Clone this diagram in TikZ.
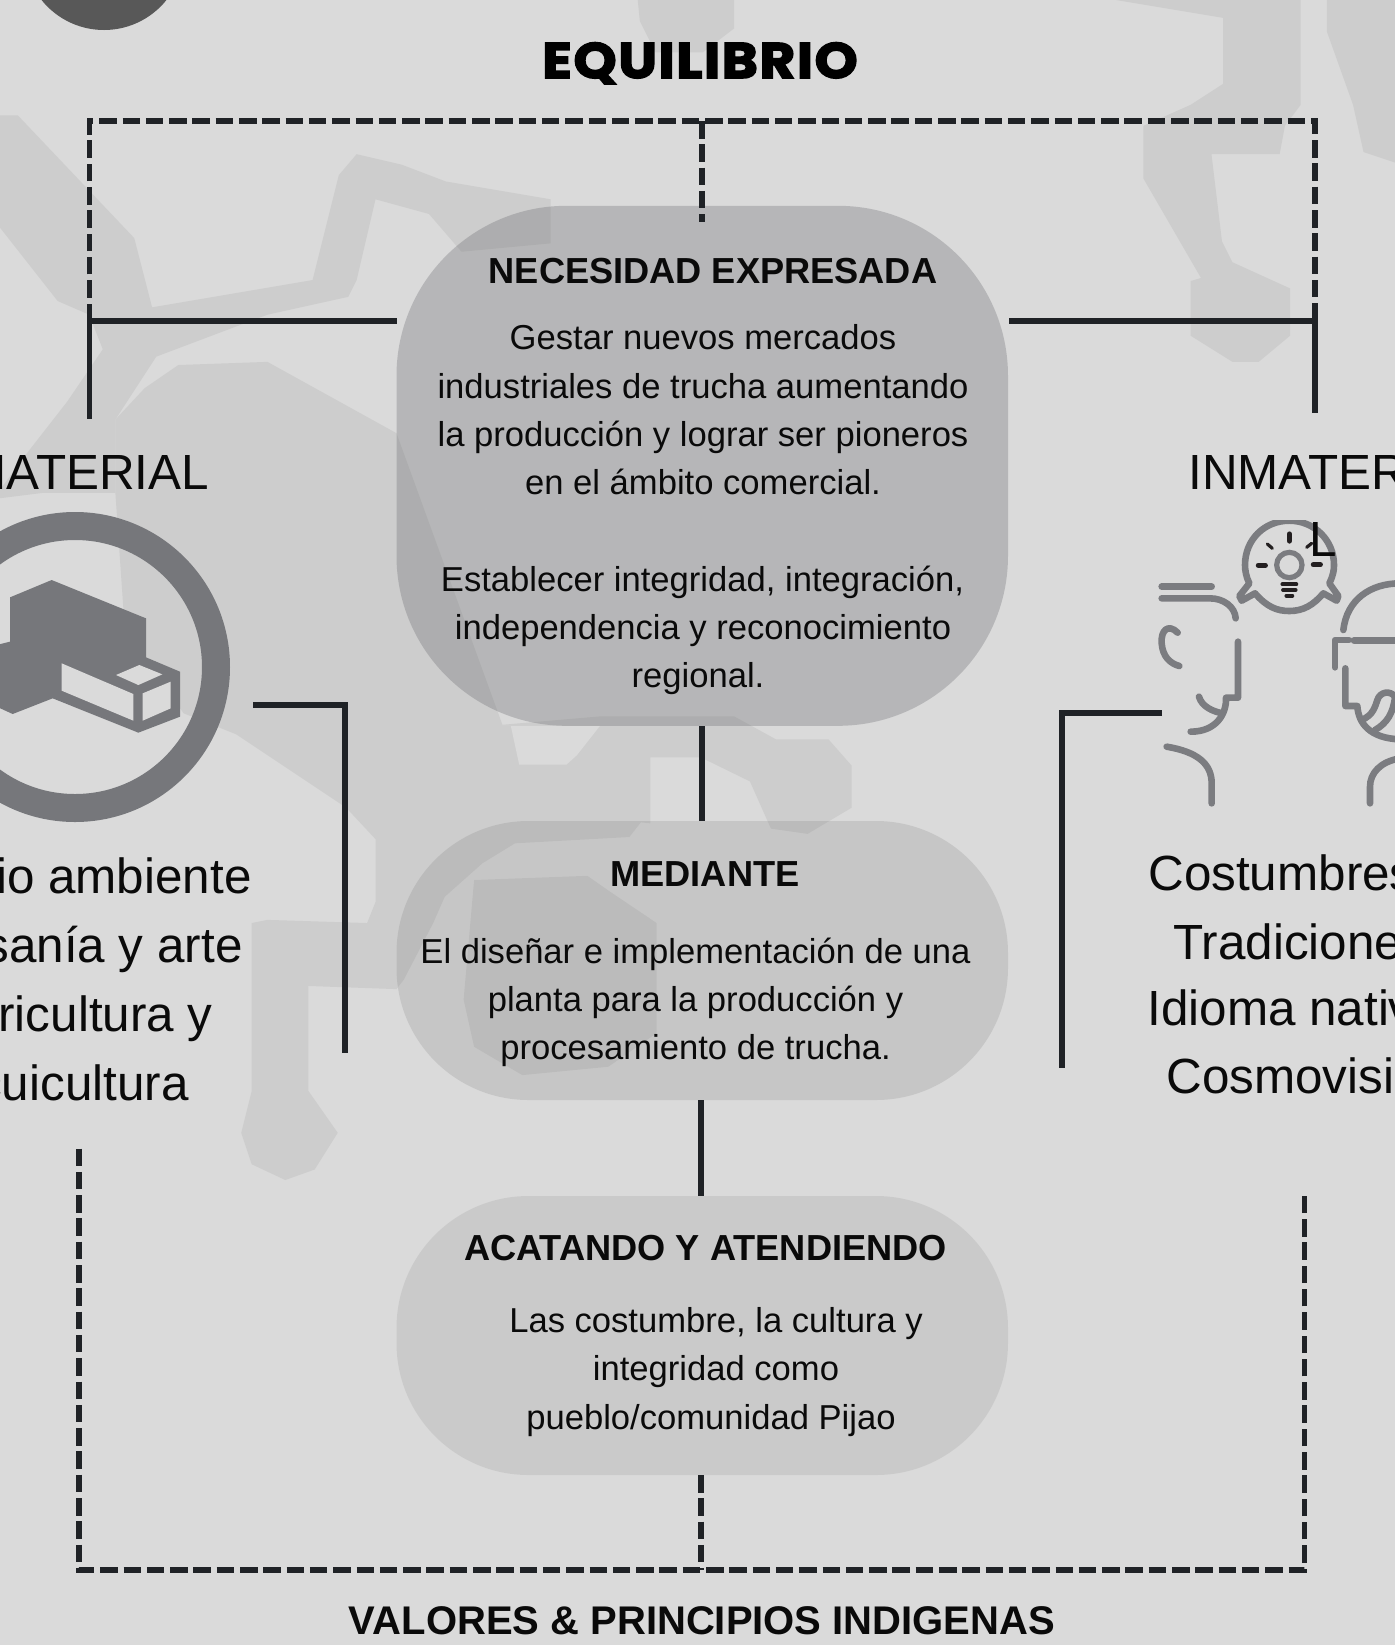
\documentclass[tikz,border=0pt]{standalone}
\usepackage{fontspec}
\setmainfont{Liberation Sans}
\newfontfamily\eqfont[FakeBold=3,FakeStretch=1.1,LetterSpace=3]{Poppins Bold}
\definecolor{bgc}{RGB}{218,218,218}
\definecolor{patc}{RGB}{205,205,205}
\definecolor{linec}{RGB}{31,34,38}
\definecolor{iconc}{RGB}{118,119,123}
\definecolor{headc}{RGB}{123,124,128}
\definecolor{rayc}{RGB}{35,31,32}
\definecolor{txtc}{RGB}{10,10,10}
\tikzset{
  solidline/.style={draw=linec,line width=2.8pt},
  dashline/.style={draw=linec,line width=2.9pt,dash pattern=on 8.75pt off 2.9pt},
  bodyline/.style={anchor=base,inner sep=0,text=txtc,font=\fontsize{17.3}{20}\selectfont},
  headline/.style={anchor=base,inner sep=0,text=txtc,font=\fontsize{18.1}{20}\selectfont\bfseries},
  sideline/.style={inner sep=0,text=txtc,font=\fontsize{24.7}{30}\selectfont},
  blobone/.style={fill={rgb,255:red,101;green,102;blue,106},fill opacity=.3,rounded corners=85pt,minimum width=305.75pt,minimum height=260pt,inner sep=0},
  blobtwo/.style={fill={rgb,255:red,98;green,98;blue,98},fill opacity=.16,rounded corners=66pt,minimum width=305.75pt,minimum height=139.5pt,inner sep=0},
  blobthree/.style={fill={rgb,255:red,98;green,98;blue,98},fill opacity=.125,rounded corners=66pt,minimum width=305.75pt,minimum height=139.5pt,inner sep=0},
  headstroke/.style={draw=headc,line width=3.3pt,line cap=round,line join=round},
  raystroke/.style={draw=rayc,line width=2.6pt,line cap=round},
}
\begin{document}
\begin{tikzpicture}[x=0.5pt,y=-0.5pt]
\useasboundingbox (0,0) rectangle (1395,1645);
\clip (0,0) rectangle (1395,1645);
\fill[bgc] (0,0) rectangle (1395,1645);
% faint background pattern, in the 1330-wide scale
\begin{scope}[x=0.52445pt,y=-0.52445pt]
\fill[patc] (0,110)--(17,110)--(128,227)--(145,293)--(298,267)--(323,167)--(340,147)--(383,157)--(425,173)--(525,190)--(525,232)--(440,240)--(409,204)--(358,190)--(340,267)--(332,283)--(255,300)--(149,340)--(110,400)--(110,470)--(40,470)--(0,475)--(0,467)--(25,433)--(64,383)--(98,333)--(85,300)--(55,287)--(0,217)--cycle;
\fill[patc] (138,370)--(170,348)--(255,345)--(378,413)--(479,691)--(572,683)--(700,683)--(740,705)--(790,705)--(812,730)--(812,770)--(770,795)--(735,790)--(715,745)--(668,722)--(620,722)--(620,785)--(611,784)--(600,798)--(491,804)--(460,823)--(424,855)--(413,880)--(385,934)--(378,943)--(294,940)--(294,1040)--(322,1080)--(300,1115)--(272,1125)--(240,1110)--(230,1080)--(240,1040)--(240,880)--(255,877)--(350,880)--(358,860)--(358,800)--(330,770)--(225,700)--(175,680)--(119,600)--(110,470)--(110,400)--cycle;
\fill[patc] (452,839)--(560,835)--(580,849)--(626,880)--(626,985)--(580,1017)--(498,1025)--(452,998)--(442,953)--cycle;
\fill[bgc] (479,692)--(572,692)--(550,720)--(540,729)--(495,729)--(487,692)--cycle;
\fill[patc] (1064,0)--(1240,0)--(1240,100)--(1225,120)--(1220,147)--(1155,147)--(1165,230)--(1175,250)--(1230,275)--(1230,320)--(1200,345)--(1175,345)--(1135,320)--(1135,268)--(1145,265)--(1090,170)--(1090,120)--(1135,100)--(1166,80)--(1166,17)--cycle;
\fill[patc] (1265,0)--(1330,0)--(1330,155)--(1300,145)--(1290,100)--(1265,30)--cycle;
\fill[patc] (608,0)--(700,0)--(700,27)--(670,50)--(625,50)--(610,20)--cycle;
\end{scope}
% top-left disc
\fill[fill={rgb,255:red,88;green,88;blue,88}] (104,-50) circle[radius=80];
% blobs
\node[blobone] (nec) at (702.25,465.8) {};
\node[blobtwo] (med) at (702.25,960.5) {};
\node[blobthree] (aca) at (702.25,1335.5) {};
% named free ends
\coordinate (tl) at (89.5,121);
\coordinate (tm) at (702,121);
\coordinate (tr) at (1315,121);
\coordinate (tmend) at (702,222);
\coordinate (lj) at (89.5,321);
\coordinate (rj) at (1315,321);
\coordinate (lend) at (89.5,419);
\coordinate (rend) at (1315,413);
\coordinate (bl) at (79,1570);
\coordinate (bm) at (701,1570);
\coordinate (br) at (1304.5,1570);
\coordinate (blend) at (79,1148.5);
\coordinate (brend) at (1304.5,1196);
\coordinate (lia) at (253,705); \coordinate (lib) at (345,705); \coordinate (lic) at (345,1053);
\coordinate (ria) at (1162,713); \coordinate (rib) at (1062,713); \coordinate (ric) at (1062,1068);
\coordinate (nl) at (396.5,321); \coordinate (nr) at (1009,321);
\coordinate (acab) at (701,1475);
% connectors
\draw[dashline] (lj)--(tl)--(tr)--(rj);
\draw[dashline] (tm)--(tmend);
\draw[solidline] (nl)--(lj)--(lend);
\draw[solidline] (nr)--(rj)--(rend);
\draw[solidline] (nec.south)--(med.north);
\draw[solidline] ([xshift=-0.5pt]med.south)--([xshift=-0.5pt]aca.north);
\draw[dashline] (acab)--(bm);
\draw[dashline] (blend)--(bl)--(br)--(brend);
\draw[solidline] (lia)--(lib)--(lic);
\draw[solidline] (ria)--(rib)--(ric);
% left icon
\draw[draw=iconc,line width=14pt] (75,667) circle[radius=141];
\begin{scope}[shift={(0,480)},x=0.16667pt,y=-0.16667pt]
\fill[iconc] (155,300)--(438,415)--(438,532)--(540,575)--(540,710)--(415,758)--(158,655)--(38,702)--(-10,680)--(-10,495)--(30,485)--(30,352)--cycle;
\fill[bgc] (185,550)--(400,642)--(400,722)--(185,632)--cycle;
\fill[bgc] (348,585)--(418,555)--(487,583)--(415,615)--cycle;
\fill[bgc] (428,640)--(512,605)--(512,685)--(428,722)--cycle;
\end{scope}
% right icon
\begin{scope}[shift={(1040,430)},x=0.16667pt,y=-0.16667pt]
\begin{scope}
\clip (500,272) rectangle (1000,600);
\draw[headstroke] (645,490) .. controls (680,530) and (710,543) .. (748,543) .. controls (790,543) and (820,525) .. (850,490) -- (890,512) -- (895,498) -- (868,460) .. controls (880,435) and (882,420) .. (882,405) .. controls (882,330) and (822,272) .. (748,272) .. controls (672,272) and (615,330) .. (615,405) .. controls (615,420) and (618,440) .. (628,460) -- (598,498) -- (605,512) -- cycle;
\end{scope}
\draw[draw=headc,line width=2.6pt] (748,405) circle[radius=38];
\draw[raystroke] (748,312)--(748,333);
\draw[raystroke,line width=1.6pt] (682,342)--(697,355);
\draw[raystroke,line width=1.6pt] (800,352)--(815,340);
\draw[raystroke] (655,406)--(676,406);
\draw[raystroke] (820,404)--(841,404);
\draw[raystroke,line width=1.9pt] (727,463)--(769,463);
\draw[raystroke,line width=1.9pt] (729,480)--(767,480);
\draw[raystroke,line width=1.9pt] (739,497)--(757,497);
\draw[headstroke] (365,470)--(515,470);
\draw[headstroke] (365,505)--(510,505) .. controls (550,505) and (585,530) .. (587,565);
\draw[headstroke] (413,608) .. controls (385,580) and (362,600) .. (365,640) .. controls (368,680) and (390,700) .. (418,708);
\draw[headstroke] (594,635)--(594,803)--(558,803) .. controls (560,850) and (530,905) .. (452,905);
\draw[headstroke] (477,800) .. controls (485,830) and (520,845) .. (548,850);
\draw[headstroke] (380,950) .. controls (470,965) and (515,1000) .. (515,1060)--(515,1120);
\draw[headstroke] (910,600) .. controls (920,510) and (990,460) .. (1080,460);
\draw[headstroke] (942,631)--(1080,631);
\draw[headstroke] (885,712)--(885,630)--(927,630);
\draw[headstroke] (916,715)--(916,828)--(952,828) .. controls (955,880) and (990,925) .. (1080,928);
\draw[headstroke] (965,870) .. controls (1000,855) and (1005,830) .. (1012,810) .. controls (1020,785) and (1050,780) .. (1065,800) .. controls (1060,850) and (1040,880) .. (1005,900);
\draw[headstroke] (990,1120)--(990,1070) .. controls (990,1030) and (1020,995) .. (1080,985);
\end{scope}
% titles
\node[anchor=base,inner sep=0,text=black,font=\eqfont\fontsize{25}{28}\selectfont] (eq) at (700,78) {EQUILIBRIO};
\node[anchor=base,inner sep=0,text=txtc,font=\fontsize{20}{24}\selectfont\bfseries] (val) at (702,1634) {VALORES \& PRINCIPIOS INDIGENAS};
% blob 1 text
\node[headline] (n0) at (713,283) {NECESIDAD EXPRESADA};
\node[bodyline] (n1) at (703,349) {Gestar nuevos mercados};
\node[bodyline] (n2) at (703,398) {industriales de trucha aumentando};
\node[bodyline] (n3) at (703,446) {la producción y lograr ser pioneros};
\node[bodyline] (n4) at (703,494) {en el ámbito comercial.};
\node[bodyline] (n5) at (702.5,591) {Establecer integridad, integración,};
\node[bodyline] (n6) at (703,639) {independencia y reconocimiento};
\node[bodyline] (n7) at (698,687) {regional.};
% blob 2 text
\node[headline] (m0) at (705,886) {MEDIANTE};
\node[bodyline] (m1) at (695.5,963) {El diseñar e implementación de una};
\node[bodyline] (m2) at (695.5,1011) {planta para la producción y};
\node[bodyline] (m3) at (695.5,1059) {procesamiento de trucha.};
% blob 3 text
\node[headline] (a0) at (705.5,1260) {ACATANDO Y ATENDIENDO};
\node[bodyline] (a1) at (716,1332) {Las costumbre, la cultura y};
\node[bodyline] (a2) at (716,1380) {integridad como};
\node[bodyline] (a3) at (711,1429) {pueblo/comunidad Pijao};
% side text
\node[sideline,anchor=base east] (mat) at (209.5,489) {MATERIAL};
\node[sideline,anchor=base east] (l1) at (252,893) {Medio ambiente};
\node[sideline,anchor=base east] (l2) at (243,962) {Artesanía y arte};
\node[sideline,anchor=base east] (l3) at (213,1031) {Agricultura y};
\node[sideline,anchor=base east] (l4) at (189,1100) {Acuicultura};
\node[sideline,anchor=base west] (inm) at (1188,489) {INMATERIA};
\node[sideline,anchor=base west] (inl) at (1309,556) {L};
\node[sideline,anchor=base west] (r1) at (1148,890) {Costumbres};
\node[sideline,anchor=base west] (r2) at (1173,959) {Tradiciones};
\node[sideline,anchor=base west] (r3) at (1147,1025) {Idioma nativo};
\node[sideline,anchor=base west] (r4) at (1166,1093) {Cosmovisión};
\end{tikzpicture}
\end{document}
